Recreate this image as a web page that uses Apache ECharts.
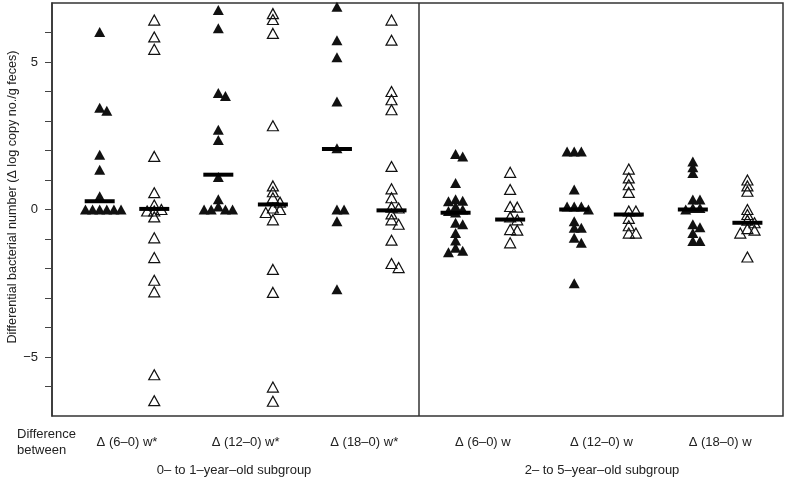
<!DOCTYPE html>
<html>
<head>
<meta charset="utf-8">
<script src="https://cdn.jsdelivr.net/npm/echarts@6/dist/echarts.min.js"></script>
<style>
    html, body { margin: 0; padding: 0; background: #fff; }
    #chart { width: 788px; height: 480px; }
</style>
</head>
<body>
<div id="chart"></div>
<script>
// 组标签（x 方向）
const groupLabels = ['Δ (6–0) w*', 'Δ (12–0) w*', 'Δ (18–0) w*', 'Δ (6–0) w', 'Δ (12–0) w', 'Δ (18–0) w']
const subgroupLabels = ['0– to 1–year–old subgroup', '2– to 5–year–old subgroup']
const yLabelValues = [-5, 0, 5]
const yTickValues = [-6, -5, -4, -3, -2, -1, 0, 1, 2, 3, 4, 5, 6]

// 实心三角 (左列) 每组的数值
const filledValues = [
    [6.02, 3.45, 3.35, 1.86, 1.35, 0.45, 0, 0, 0, 0, 0, 0],
    [6.76, 6.14, 3.95, 3.85, 2.7, 2.36, 1.1, 0.35, 0.1, 0, 0, 0, 0],
    [6.87, 5.74, 5.16, 3.66, 2.08, 0, 0, -0.4, -2.7],
    [1.88, 1.8, 0.9, 0.35, 0.3, 0.28, 0.1, 0, -0.05, -0.1, -0.45, -0.5, -0.8, -1.05, -1.3, -1.4, -1.45],
    [1.97, 1.97, 1.97, 0.68, 0.1, 0.1, 0.1, 0, -0.4, -0.62, -0.62, -0.96, -1.13, -2.5],
    [1.63, 1.43, 1.24, 0.34, 0.34, 0.05, 0.05, 0, -0.5, -0.6, -0.8, -1.07, -1.07],
]
// 空心三角 (右列) 每组的数值
const openValues = [
    [6.42, 5.85, 5.43, 1.8, 0.57, 0.15, 0, -0.05, -0.05, -0.25, -0.96, -1.63, -2.4, -2.79, -5.6, -6.48],
    [6.64, 6.44, 5.97, 2.84, 0.8, 0.6, 0.4, 0.25, 0.05, 0, -0.1, -0.35, -2.03, -2.81, -6.02, -6.5],
    [6.42, 5.74, 4.0, 3.72, 3.38, 1.46, 0.7, 0.4, 0.08, 0.05, -0.15, -0.35, -0.5, -1.04, -1.83, -1.97],
    [1.26, 0.68, 0.1, 0.08, -0.25, -0.35, -0.68, -0.7, -1.13],
    [1.37, 1.07, 0.84, 0.58, -0.05, -0.05, -0.3, -0.55, -0.8, -0.8],
    [1.0, 0.8, 0.62, 0.0, -0.17, -0.36, -0.45, -0.65, -0.7, -0.8, -1.61],
]
// 中位数横线
const filledMedians = [0.28, 1.18, 2.05, -0.11, 0.0, 0.0]
const openMedians = [0.02, 0.17, -0.03, -0.34, -0.17, -0.45]

const chartDom = document.getElementById('chart')
const chartInstance = echarts.init(chartDom)

const PAIR_OFFSET = 0.23 // 实心/空心两列相对组中心的偏移
const DX = 0.06 // 水平错开的步长
const DY = 0.17 // 小于这个差值就认为重叠

/**
 * @desc 简单的蜂群排布，重叠的点左右错开
 */
const swarm = (values, center) => {
    const placed = []
    values.slice().sort((a, b) => b - a).forEach(v => {
        for (let k = 0; k < 40; k++) {
            const off = k === 0 ? 0 : (k % 2 ? 1 : -1) * Math.ceil(k / 2) * DX
            const x = center + off
            const clash = placed.some(p => Math.abs(p[0] - x) < DX * 0.99 && Math.abs(p[1] - v) < DY)
            if (!clash) {
                placed.push([x, v])
                break
            }
        }
    })
    return placed
}

let filledData = []
let openData = []
filledValues.forEach((vals, g) => { filledData = filledData.concat(swarm(vals, g - PAIR_OFFSET)) })
openValues.forEach((vals, g) => { openData = openData.concat(swarm(vals, g + PAIR_OFFSET)) })
const medianData = []
filledMedians.forEach((m, g) => medianData.push([g - PAIR_OFFSET, m]))
openMedians.forEach((m, g) => medianData.push([g + PAIR_OFFSET, m]))

const textColor = '#222'
const fontFamily = 'Liberation Sans, Arial, sans-serif'

const option = {
    backgroundColor: '#fff',
    animation: false,
    grid: {
        left: 52,
        right: 5,
        top: 3,
        bottom: 64,
        outerBoundsMode: 'none',
        containLabel: false,
        show: true,
        borderColor: '#333',
        borderWidth: 1.5,
        backgroundColor: 'transparent',
    },
    xAxis: {
        type: 'value',
        min: -0.632,
        max: 5.53,
        splitLine: { show: false },
        axisLine: { show: false, onZero: false },
        axisTick: { show: false },
        axisLabel: {
            customValues: [0, 1, 2, 3, 4, 5],
            formatter: v => groupLabels[Math.round(v)],
            color: textColor,
            fontSize: 13,
            fontFamily: fontFamily,
            margin: 20,
        },
    },
    yAxis: {
        type: 'value',
        min: -7,
        max: 7,
        interval: 1,
        splitLine: { show: false },
        axisLine: { show: true, onZero: false, lineStyle: { color: '#333', width: 1.5 } },
        axisTick: { show: true, length: 7, customValues: yTickValues, lineStyle: { color: '#444', width: 1 } },
        axisLabel: {
            customValues: yLabelValues,
            color: textColor,
            fontSize: 13,
            fontFamily: fontFamily,
            margin: 14,
            formatter: v => (v < 0 ? '−' + Math.abs(v) : String(v)),
        },
    },
    series: [
        {
            name: 'filled',
            type: 'scatter',
            symbol: 'triangle',
            symbolSize: [11, 10],
            itemStyle: { color: '#111', opacity: 1 },
            data: filledData,
            z: 2,
            markLine: {
                silent: true,
                symbol: 'none',
                label: { show: false },
                lineStyle: { color: '#333', width: 1.5, type: 'solid' },
                data: [{ xAxis: 2.46 }],
            },
        },
        {
            name: 'open',
            type: 'scatter',
            symbol: 'triangle',
            symbolSize: [11, 10],
            itemStyle: { color: 'rgba(255,255,255,0)', borderColor: '#111', borderWidth: 1.2, opacity: 1 },
            data: openData,
            z: 2,
        },
        {
            name: 'median',
            type: 'scatter',
            symbol: 'rect',
            symbolSize: [30, 4],
            itemStyle: { color: '#000', opacity: 1 },
            data: medianData,
            z: 3,
        },
    ],
    graphic: [
        {
            type: 'text',
            x: 13,
            y: 197,
            rotation: Math.PI / 2,
            style: {
                text: 'Differential bacterial number (Δ log copy no./g feces)',
                fill: textColor,
                font: '12.6px ' + fontFamily,
                align: 'center',
                verticalAlign: 'middle',
            },
        },
        {
            type: 'text',
            left: 17,
            top: 426,
            style: {
                text: 'Difference\nbetween',
                fill: textColor,
                font: '13px ' + fontFamily,
                lineHeight: 16,
            },
        },
        {
            type: 'text',
            x: 234,
            y: 470,
            style: {
                text: subgroupLabels[0],
                fill: textColor,
                font: '13px ' + fontFamily,
                align: 'center',
                verticalAlign: 'middle',
            },
        },
        {
            type: 'text',
            x: 602,
            y: 470,
            style: {
                text: subgroupLabels[1],
                fill: textColor,
                font: '13px ' + fontFamily,
                align: 'center',
                verticalAlign: 'middle',
            },
        },
    ],
}
chartInstance.setOption(option)
</script>
</body>
</html>
